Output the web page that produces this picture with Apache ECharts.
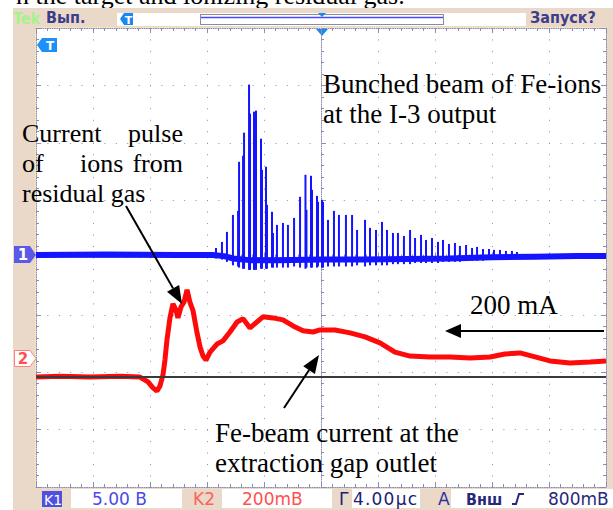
<!DOCTYPE html>
<html>
<head>
<meta charset="utf-8">
<script src="https://cdn.jsdelivr.net/npm/echarts@6/dist/echarts.min.js"></script>
<style>
  html, body { margin: 0; padding: 0; background: #fff; overflow: hidden; }
  #ui, #chart { position: absolute; left: 0; top: 0; width: 613px; height: 510px; }
  .ui { font-family: "DejaVu Sans"; }
</style>
</head>
<body>
<!-- scope frame, status bars and channel markers -->
<svg id="ui" width="613" height="510" class="ui">
  <text x="16" y="4" font-family="Liberation Serif" font-size="26" fill="#000">n the target and ionizing residual gas.</text>
  <rect x="13" y="8" width="600" height="502" fill="#ead9c8"/>

  <text x="13" y="24" font-family="DejaVu Sans Condensed" font-size="16" font-weight="bold" fill="#a6f28c">Tek</text>
  <text x="46" y="23" font-family="DejaVu Sans Condensed" font-size="16" font-weight="bold" fill="#3d3d8d">Вып.</text>
  <rect x="117" y="13" width="409" height="13" fill="#fff"/>
  <polygon points="120,19 124,13 133,13 133,25 124,25" fill="#1a88f0"/>
  <text x="128.5" y="24" font-size="11" font-weight="bold" fill="#fff" text-anchor="middle">T</text>
  <rect x="200.5" y="14.5" width="243" height="10" fill="none" stroke="#8a8aa8"/>
  <line x1="201" y1="17.5" x2="443" y2="17.5" stroke="#4848ff" stroke-width="1.5"/>
  <polygon points="318,13 326,13 322,17" fill="#1a88f0"/>
  <text x="530" y="23" font-family="DejaVu Sans Condensed" font-size="16" font-weight="bold" fill="#3d3d8d">Запуск?</text>

  <rect x="35.5" y="27.5" width="571" height="460" fill="#fff" stroke="#efe8bf"/>
  <polygon points="316,29 328,29 322,36" fill="#1a88f0"/>
  <polygon points="37,45 42,38 57,38 57,52 42,52" fill="#1a90f8"/>
  <text x="50" y="50" font-size="12" font-weight="bold" fill="#fff" text-anchor="middle">T</text>

  <polygon points="14,246 30,246 36,255 30,263 14,263" fill="#5a5ae6"/>
  <text x="23" y="260" font-size="15" font-weight="bold" fill="#fff" text-anchor="middle">1</text>
  <polygon points="14.5,350.5 30,350.5 36,358.5 30,366.5 14.5,366.5" fill="#fff" stroke="#ff8080"/>
  <text x="23" y="364" font-size="15" font-weight="bold" fill="#ff5050" text-anchor="middle">2</text>

  <rect x="42" y="491" width="20" height="16" fill="#5050e0"/>
  <text x="44" y="505" font-size="14" fill="#fff">K1</text>
  <rect x="71" y="489" width="111" height="19" fill="#fff"/>
  <text x="92" y="505" font-size="17" fill="#4a4ae8">5.00 В</text>
  <text x="193" y="505" font-size="17" fill="#ff6060">K2</text>
  <rect x="222" y="489" width="110" height="19" fill="#fff"/>
  <text x="242" y="505" font-size="17" fill="#ff5050">200mВ</text>
  <text x="339" y="505" font-size="17" fill="#1c1c70">Г</text>
  <rect x="352" y="489" width="68" height="19" fill="#fff"/>
  <text x="353" y="505" font-size="17" fill="#1c1c70" textLength="64" lengthAdjust="spacing">4.00μс</text>
  <text x="438" y="505" font-size="17" fill="#3030a0">A</text>
  <rect x="451" y="489" width="162" height="19" fill="#fff"/>
  <text x="466" y="505" font-family="DejaVu Sans Condensed" font-size="16" font-weight="bold" fill="#28287a">Внш</text>
  <path d="M512,504 L516,504 L519,494 L524,494" fill="none" stroke="#28287a" stroke-width="2"/>
  <text x="548" y="505" font-size="17" fill="#28287a">800mВ</text>
</svg>
<div id="chart"></div>
<script>
// time in microseconds (4 us/div), channel 1 in volts, channel 2 in mA
const redT = [-20, -18.32, -16.21, -14.11, -12.70, -12.14, -11.79, -11.51, -11.30, -11.09, -10.95, -10.81, -10.60, -10.39, -10.18, -10.04, -9.82, -9.61, -9.40, -9.19, -8.98, -8.70, -8.49, -8.28, -8.07, -7.79, -7.30, -6.88, -6.39, -5.89, -5.47, -4.98, -4.49, -4.07, -3.37, -2.67, -1.96, -1.26, -0.56, -0.07, 0.98, 2.04, 3.09, 4.14, 5.19, 6.25, 7.65, 9.05, 10.46, 11.86, 12.91, 13.96, 15.02, 16.07, 17.47, 18.88, 20]
const redI = [0, 3, 0, 3, 0, -17, -38, -49, -31, 7, 59, 129, 206, 255, 234, 206, 245, 262, 304, 259, 231, 154, 105, 73, 59, 87, 115, 126, 157, 192, 203, 171, 192, 210, 206, 199, 178, 161, 157, 164, 164, 154, 140, 119, 87, 73, 70, 70, 66, 70, 80, 84, 70, 56, 49, 52, 56]

const blueBaseT = [-20, -15, -10, -7.6, -6.8, -6.2, -5, -3, 0, 3, 6, 9, 12, 15, 18, 20]
const blueBaseV = [0.0, 0.05, 0.0, 0.0, -0.1, -0.3, -0.45, -0.45, -0.4, -0.4, -0.35, -0.3, -0.2, -0.15, -0.1, -0.1]

// bunch spikes of channel 1: time, bottom and top of each spike
const spikeT = [-7.37, -6.95, -6.60, -6.18, -5.82, -5.75, -5.47, -5.40, -5.05, -4.98,
  -4.70, -4.56, -4.21, -4.14, -3.86, -3.79, -3.44, -3.37, -3.09, -2.67,
  -2.32, -1.89, -1.47, -1.09, -1.02, -0.70, -0.63, -0.28, -0.21, 0.07,
  0.14, 0.49, 0.91, 1.26, 1.75, 2.18, 2.53, 3.09, 3.44, 3.86,
  4.28, 4.63, 5.05, 5.40, 5.82, 6.25, 6.60, 7.02, 7.37, 7.79,
  8.21, 8.56, 8.98, 9.40, 9.75, 10.18, 10.60, 10.95, 11.37, 11.79,
  12.14, 12.56, 12.98, 13.40, 13.75]
const spikeHi = [0.61, 1.14, 2.01, 3.49, 3.84, 8.12, 8.65, 10.66, 14.85, 12.31,
  12.49, 12.58, 10.13, 7.42, 7.69, 4.37, 3.76, 1.92, 2.62, 2.79,
  2.62, 3.23, 5.07, 6.99, 3.93, 6.90, 5.68, 5.15, 4.63, 4.80,
  4.63, 3.06, 3.84, 3.49, 3.49, 3.49, 2.18, 3.06, 2.36, 2.18,
  2.88, 2.18, 1.92, 1.92, 1.66, 2.18, 1.48, 1.75, 1.31, 1.48,
  1.14, 1.31, 0.96, 1.05, 0.79, 0.87, 0.61, 0.70, 0.52, 0.52,
  0.44, 0.44, 0.35, 0.35, 0.26]
const spikeLo = [-0.3, -0.4, -0.6, -0.9, -1.0, -1.1, -1.2, -1.2, -1.3, -1.3,
  -1.3, -1.3, -1.2, -1.2, -1.2, -1.2, -1.1, -1.1, -1.1, -1.1,
  -1.1, -1.0, -1.1, -1.2, -1.1, -1.1, -1.1, -1.1, -1.0, -1.1,
  -1.1, -1.0, -1.0, -1.0, -1.0, -1.0, -0.9, -1.0, -0.9, -0.9,
  -0.9, -0.9, -0.8, -0.8, -0.8, -0.8, -0.7, -0.7, -0.7, -0.7,
  -0.7, -0.6, -0.6, -0.6, -0.6, -0.5, -0.5, -0.5, -0.5, -0.4,
  -0.4, -0.4, -0.4, -0.3, -0.3]

const gratColor = '#8c8cb4'

const chart = echarts.init(document.getElementById('chart'), null, { renderer: 'svg' })

// graticule axis: border or centre line with 1/5 division ticks
function gratAxis(extra) {
  return Object.assign({
    type: 'value',
    axisLine: { show: true, onZero: false, lineStyle: { color: gratColor, type: [1, 1.3] } },
    axisTick: { show: true, inside: true, length: 5, lineStyle: { color: gratColor } },
    minorTick: { show: true, splitNumber: 5, length: 3, lineStyle: { color: gratColor } },
    axisLabel: { show: false },
    splitLine: { show: false }
  }, extra)
}

function label(text, x, y, align, size) {
  return {
    type: 'text', z: 100,
    style: { text, x, y, font: (size || 27) + 'px "Liberation Serif"', fill: '#000', textAlign: align || 'left', textVerticalAlign: 'middle' }
  }
}

function arrow(x1, y1, x2, y2, len, half) {
  const d = Math.hypot(x2 - x1, y2 - y1)
  const ux = (x2 - x1) / d, uy = (y2 - y1) / d
  const bx = x2 - ux * len, by = y2 - uy * len
  return [
    { type: 'line', z: 100, shape: { x1, y1, x2: bx, y2: by }, style: { stroke: '#000', lineWidth: 2 } },
    { type: 'polygon', z: 100, shape: { points: [[x2, y2], [bx - uy * half, by + ux * half], [bx + uy * half, by - ux * half]] }, style: { fill: '#000' } }
  ]
}

const option = {
  animation: false,
  grid: { left: 36, top: 28, width: 570, height: 459 },
  xAxis: [
    gratAxis({ min: -20, max: 20, interval: 4, position: 'bottom',
      splitLine: { show: true, lineStyle: { color: gratColor, type: [1, 10.475] } } }),
    gratAxis({ min: -20, max: 20, interval: 4, position: 'top' }),
    gratAxis({ min: -20, max: 20, interval: 4, position: 'bottom', offset: -229.5 })
  ],
  yAxis: [
    gratAxis({ min: -4, max: 4, interval: 1, position: 'left',
      splitLine: { show: true, lineStyle: { color: gratColor, type: [1, 10.4] } } }),
    gratAxis({ min: -4, max: 4, interval: 1, position: 'right' }),
    gratAxis({ min: -4, max: 4, interval: 1, position: 'left', offset: -285 }),
    { type: 'value', show: false, min: -20.22, max: 19.78 },
    { type: 'value', show: false, min: -383.4, max: 1216.6 }
  ],
  series: [
    {
      name: 'K1 baseline', type: 'line', xAxisIndex: 0, yAxisIndex: 3, z: 3,
      showSymbol: false, silent: true,
      data: blueBaseT.map((t, i) => [t, blueBaseV[i]]),
      lineStyle: { color: '#1414ff', width: 6 }
    },
    {
      name: 'K1 bunches', type: 'custom', xAxisIndex: 0, yAxisIndex: 3, z: 4, silent: true,
      data: spikeT.map((t, i) => [t, spikeLo[i], spikeHi[i]]),
      encode: { x: 0, y: [1, 2] },
      renderItem(params, api) {
        const p1 = api.coord([api.value(0), api.value(1)])
        const p2 = api.coord([api.value(0), api.value(2)])
        return { type: 'line', shape: { x1: p1[0], y1: p1[1], x2: p2[0], y2: p2[1] }, style: { stroke: '#1414ff', lineWidth: 2 } }
      }
    },
    {
      name: 'K2 current', type: 'line', xAxisIndex: 0, yAxisIndex: 4, z: 3,
      showSymbol: false, silent: true,
      data: redT.map((t, i) => [t, redI[i]]),
      lineStyle: { color: '#ff0a0a', width: 5 },
      markLine: {
        silent: true, symbol: 'none', z: 5, label: { show: false },
        lineStyle: { color: '#3a3a3a', width: 2, type: 'solid' },
        data: [{ yAxis: 0 }]
      }
    }
  ],
  graphic: {
    elements: [
      label('Bunched beam of Fe-ions', 323, 84),
      label('at the I-3 output', 323, 114),
      label('Current', 22, 133, 'left', 26),
      label('pulse', 183, 133, 'right', 26),
      label('of', 22, 163, 'left', 26),
      label('ions', 80, 163, 'left', 26),
      label('from', 183, 163, 'right', 26),
      label('residual gas', 22, 193, 'left', 26),
      label('200 mA', 470, 305),
      label('Fe-beam current at the', 215, 433),
      label('extraction gap outlet', 215, 463),
      ...arrow(126, 206, 182, 304, 18, 7),
      ...arrow(284, 408, 319, 355, 18, 7),
      ...arrow(604, 331, 445, 331, 16, 7)
    ]
  }
}

chart.setOption(option)
</script>
</body>
</html>
